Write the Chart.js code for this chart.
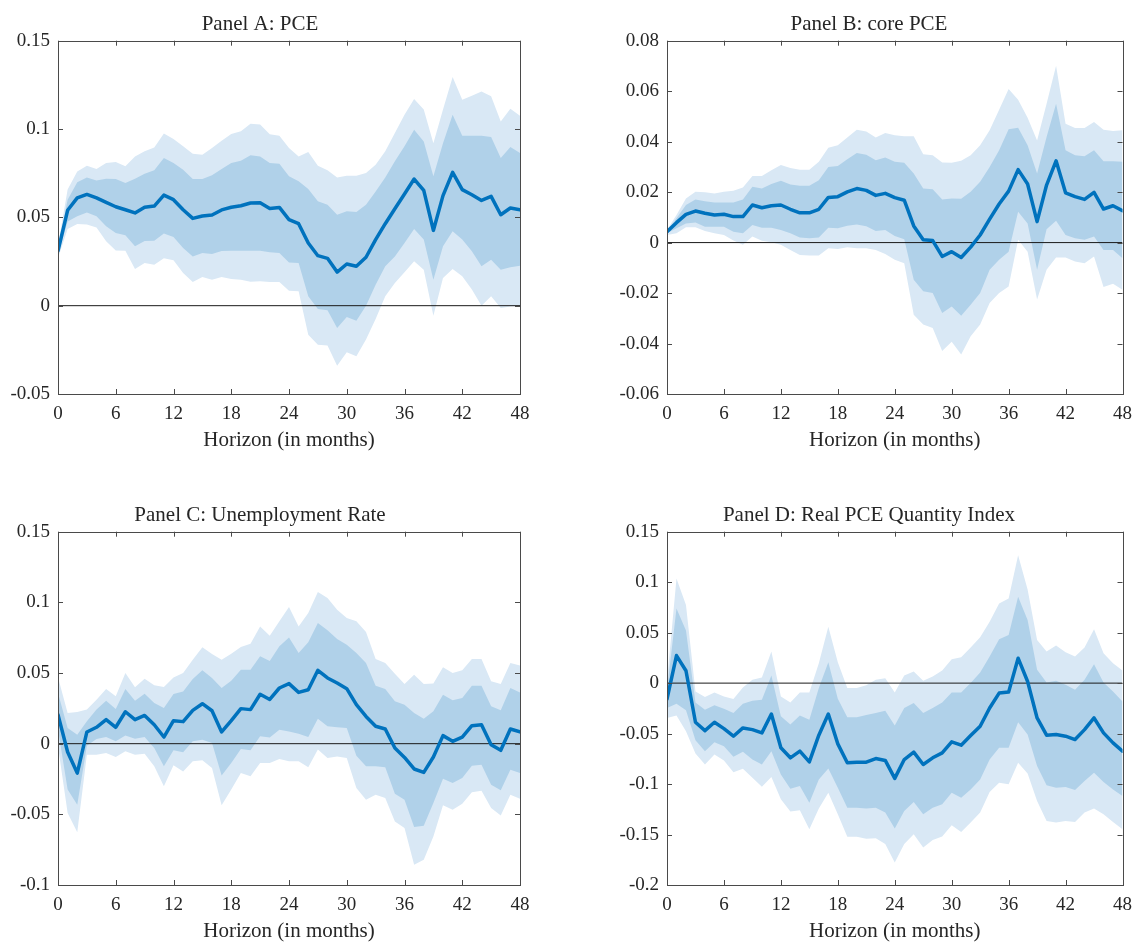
<!DOCTYPE html>
<html>
<head>
<meta charset="utf-8">
<script src="https://cdn.jsdelivr.net/npm/chart.js@4.4.1/dist/chart.umd.min.js"></script>
<style>
  html, body { margin: 0; padding: 0; background: #fff; width: 1141px; height: 943px; overflow: hidden; }
  #wrap { position: relative; width: 1141px; height: 943px; }
  canvas { position: absolute; }
</style>
</head>
<body>
<div id="wrap">
  <canvas id="cA" width="570" height="470" style="left:0px;top:0px;"></canvas>
  <canvas id="cB" width="532" height="470" style="left:609px;top:0px;"></canvas>
  <canvas id="cC" width="570" height="470" style="left:0px;top:491px;"></canvas>
  <canvas id="cD" width="532" height="470" style="left:609px;top:491px;"></canvas>
</div>
<script>
// ---------- categories / ticks ----------
const horizons = [0,1,2,3,4,5,6,7,8,9,10,11,12,13,14,15,16,17,18,19,20,21,22,23,24,25,26,27,28,29,30,31,32,33,34,35,36,37,38,39,40,41,42,43,44,45,46,47,48];
const xTicks = [0, 6, 12, 18, 24, 30, 36, 42, 48];
const yTicksA = [-0.05, 0, 0.05, 0.1, 0.15];
const yTicksB = [-0.06, -0.04, -0.02, 0, 0.02, 0.04, 0.06, 0.08];
const yTicksC = [-0.1, -0.05, 0, 0.05, 0.1, 0.15];
const yTicksD = [-0.2, -0.15, -0.1, -0.05, 0, 0.05, 0.1, 0.15];

// ---------- Panel A: PCE ----------
const irfA = [0.031,0.054,0.061,0.063,0.061,0.0585,0.056,0.0543,0.0525,0.0557,0.0564,0.0626,0.060,0.0543,0.0494,0.0508,0.0513,0.0542,0.0557,0.0566,0.0581,0.0583,0.055,0.0556,0.0487,0.0464,0.0355,0.0283,0.0268,0.019,0.0236,0.0223,0.0274,0.0374,0.0464,0.0549,0.0632,0.0717,0.0653,0.0426,0.0623,0.0755,0.0657,0.0628,0.0596,0.0619,0.0515,0.0553,0.0543];
const up90A = [0.034,0.0657,0.076,0.0792,0.0774,0.0808,0.0813,0.0789,0.0845,0.0874,0.0896,0.0974,0.0943,0.0902,0.086,0.0855,0.0892,0.0934,0.0972,0.0987,0.103,0.1025,0.097,0.0962,0.0892,0.0845,0.087,0.0792,0.0766,0.0726,0.0736,0.0736,0.0751,0.0798,0.0874,0.0977,0.1081,0.117,0.111,0.092,0.111,0.1294,0.1166,0.1189,0.1213,0.1185,0.1043,0.1115,0.1075];
const up68A = [0.033,0.060,0.0698,0.0726,0.0709,0.0719,0.0717,0.0694,0.0719,0.0747,0.0766,0.0836,0.0808,0.077,0.0717,0.0717,0.0738,0.0774,0.0808,0.0821,0.0851,0.0845,0.0808,0.0804,0.0732,0.0704,0.066,0.0591,0.0572,0.0515,0.0534,0.053,0.0572,0.0647,0.0726,0.0817,0.0902,0.0996,0.093,0.0732,0.092,0.1081,0.0962,0.0962,0.0962,0.0955,0.0836,0.0898,0.0864];
const lo68A = [0.029,0.0477,0.0506,0.0528,0.0506,0.0449,0.0411,0.0398,0.0336,0.0366,0.0368,0.0408,0.0389,0.0326,0.0279,0.0298,0.0292,0.0309,0.0311,0.0311,0.0311,0.0311,0.0303,0.0298,0.0245,0.0242,0.0053,-0.0019,-0.0026,-0.0126,-0.0064,-0.0085,0.0,0.0119,0.0223,0.0279,0.0355,0.0434,0.0374,0.0147,0.0336,0.0421,0.0374,0.0308,0.0223,0.026,0.0204,0.0217,0.0226];
const lo90A = [0.027,0.0434,0.0462,0.046,0.0443,0.0364,0.0313,0.0311,0.0208,0.0242,0.0232,0.0268,0.0257,0.0185,0.0134,0.0162,0.0147,0.0162,0.0151,0.0147,0.0136,0.0138,0.0134,0.0134,0.0085,0.0081,-0.0164,-0.0221,-0.0226,-0.034,-0.0264,-0.0287,-0.0192,-0.0075,0.0053,0.0128,0.0189,0.0251,0.0204,-0.0057,0.0157,0.0208,0.0166,0.0091,0.0,0.0053,-0.0013,-0.0004,0.0];

// ---------- Panel B: core PCE ----------
const irfB = [0.0043,0.0079,0.0112,0.0125,0.0116,0.0109,0.0112,0.0103,0.0103,0.0149,0.0138,0.0146,0.0149,0.0132,0.0118,0.0118,0.0132,0.0179,0.0182,0.0201,0.0214,0.0207,0.0187,0.0195,0.0178,0.0168,0.0066,0.0011,0.0008,-0.0055,-0.0036,-0.0059,-0.0018,0.003,0.0093,0.0153,0.0204,0.0289,0.0232,0.0083,0.0228,0.0324,0.0197,0.0182,0.0171,0.0199,0.0133,0.0146,0.0126];
const up90B = [0.005,0.0109,0.0175,0.0201,0.0199,0.0195,0.0201,0.0205,0.0218,0.0264,0.0264,0.0287,0.0307,0.0296,0.0289,0.0289,0.032,0.0376,0.0386,0.0416,0.0447,0.044,0.0416,0.0434,0.0425,0.0421,0.0421,0.035,0.0346,0.0317,0.0316,0.0324,0.0346,0.0386,0.0445,0.0526,0.0609,0.0566,0.0495,0.0405,0.055,0.0701,0.0471,0.0454,0.0454,0.0478,0.0447,0.0442,0.0445];
const up68B = [0.0046,0.0096,0.0149,0.0171,0.0164,0.0159,0.0159,0.0159,0.0171,0.0221,0.0214,0.0232,0.0245,0.023,0.0225,0.0225,0.0247,0.030,0.0303,0.033,0.0355,0.0348,0.0326,0.0337,0.032,0.0316,0.0274,0.0214,0.0211,0.0171,0.0175,0.0174,0.0201,0.0241,0.030,0.0366,0.0449,0.0455,0.0386,0.0274,0.0418,0.055,0.0366,0.0346,0.0342,0.0366,0.0322,0.0322,0.032];
const lo68B = [0.0037,0.0057,0.0076,0.008,0.0063,0.0063,0.0063,0.0043,0.0037,0.007,0.0059,0.0059,0.005,0.0037,0.002,0.0017,0.002,0.0059,0.0057,0.0067,0.0072,0.0065,0.0046,0.005,0.0026,0.0013,-0.0147,-0.0193,-0.020,-0.0279,-0.0253,-0.029,-0.0246,-0.020,-0.0108,-0.0068,-0.0036,0.0122,0.0076,-0.0108,0.0053,0.0087,0.003,0.0017,0.0011,0.0024,-0.0029,-0.0029,-0.0062];
const lo90B = [0.003,0.0037,0.0061,0.0061,0.0046,0.0037,0.003,0.0008,-0.0009,0.0024,0.0007,0.0001,-0.0009,-0.0029,-0.0049,-0.0051,-0.0051,-0.0022,-0.0025,-0.0018,-0.0022,-0.0022,-0.0029,-0.0045,-0.0068,-0.0082,-0.0286,-0.0325,-0.0338,-0.043,-0.0393,-0.0443,-0.0371,-0.0325,-0.0239,-0.020,-0.0174,0.0011,-0.0036,-0.0226,-0.0108,-0.0059,-0.0059,-0.0075,-0.0082,-0.0055,-0.0176,-0.0163,-0.0187];

// ---------- Panel C: Unemployment Rate ----------
const irfC = [0.0205,-0.0059,-0.0208,0.0083,0.0116,0.017,0.0116,0.0226,0.017,0.020,0.0134,0.0047,0.0163,0.0156,0.0236,0.0283,0.0233,0.0083,0.0163,0.0248,0.0241,0.035,0.0313,0.0394,0.0425,0.0363,0.0382,0.0519,0.0465,0.0429,0.0389,0.0276,0.0193,0.0123,0.0104,-0.0031,-0.0097,-0.0179,-0.0203,-0.0094,0.0057,0.0017,0.0047,0.0127,0.0134,-0.0007,-0.0047,0.0104,0.0083];
const up90C = [0.047,0.0217,0.0224,0.0241,0.0311,0.0387,0.0335,0.050,0.0399,0.046,0.0413,0.0401,0.0469,0.050,0.0594,0.0682,0.0634,0.0594,0.0637,0.0684,0.0708,0.083,0.0764,0.0866,0.0967,0.083,0.0925,0.1073,0.1031,0.0948,0.0889,0.0866,0.079,0.0599,0.0571,0.0495,0.0422,0.0488,0.0422,0.0425,0.054,0.050,0.0519,0.0599,0.0599,0.0441,0.0422,0.0571,0.0554];
const up68C = [0.0358,0.0111,0.0064,0.0158,0.0241,0.0304,0.0245,0.0387,0.0304,0.0354,0.0288,0.0252,0.0351,0.037,0.0458,0.0519,0.0465,0.0394,0.0446,0.0524,0.0524,0.0618,0.0585,0.0689,0.0752,0.0642,0.0717,0.0854,0.0802,0.0741,0.070,0.0642,0.0571,0.041,0.0387,0.030,0.0276,0.0217,0.0177,0.0229,0.0347,0.0307,0.0323,0.041,0.041,0.0264,0.0236,0.0394,0.0363];
const lo68C = [0.010,-0.0325,-0.0432,-0.0014,0.0033,0.0047,0.0017,0.0057,0.0035,0.0047,-0.0031,-0.016,-0.0047,-0.0061,0.0017,0.0028,0.0005,-0.0226,-0.0137,-0.0038,-0.0047,0.0052,0.0044,0.0099,0.0087,0.0071,0.0047,0.0177,0.0123,0.0116,0.0111,-0.0085,-0.016,-0.016,-0.0167,-0.0354,-0.0396,-0.059,-0.058,-0.042,-0.0248,-0.0278,-0.0243,-0.0156,-0.0149,-0.029,-0.033,-0.0184,-0.0208];
const lo90C = [-0.002,-0.049,-0.0627,-0.0078,-0.0078,-0.0066,-0.0094,-0.0054,-0.0078,-0.0071,-0.016,-0.0302,-0.0153,-0.0196,-0.0125,-0.0118,-0.0172,-0.0436,-0.0325,-0.0208,-0.0231,-0.0137,-0.0137,-0.0108,-0.0125,-0.0125,-0.0167,-0.0042,-0.0101,-0.009,-0.0101,-0.0314,-0.0396,-0.0361,-0.0384,-0.055,-0.0597,-0.0856,-0.0821,-0.0656,-0.0436,-0.0467,-0.0425,-0.0344,-0.0333,-0.0455,-0.0509,-0.0361,-0.0389];

// ---------- Panel D: Real PCE Quantity Index ----------
const irfD = [-0.0158,0.0273,0.0122,-0.0388,-0.047,-0.0388,-0.0451,-0.0526,-0.0444,-0.0461,-0.0493,-0.0306,-0.0641,-0.074,-0.0674,-0.078,-0.0516,-0.0306,-0.0602,-0.0789,-0.0783,-0.0783,-0.0747,-0.0766,-0.0944,-0.0757,-0.0684,-0.0806,-0.074,-0.0691,-0.0582,-0.0615,-0.052,-0.0428,-0.0247,-0.0099,-0.0089,0.0247,0.0016,-0.0345,-0.0516,-0.051,-0.0526,-0.0559,-0.0461,-0.0345,-0.0493,-0.0592,-0.0674];
const up90D = [0.0016,0.1036,0.0773,-0.0082,-0.0138,-0.0092,-0.0132,-0.0158,-0.0043,0.0033,0.0056,0.0313,-0.0132,-0.0191,-0.0092,-0.0092,0.0197,0.0559,0.0207,-0.0049,-0.0049,-0.002,0.0033,0.0049,-0.0092,0.0076,0.0115,0.0023,0.0066,0.0125,0.0237,0.0257,0.0352,0.0454,0.0609,0.0789,0.0839,0.1266,0.0928,0.0428,0.0313,0.0372,0.0306,0.0263,0.0352,0.0533,0.0296,0.0197,0.0125];
const up68D = [-0.0066,0.074,0.052,-0.0191,-0.0263,-0.022,-0.0253,-0.0296,-0.0204,-0.0174,-0.0164,0.0076,-0.0329,-0.0411,-0.0322,-0.0362,-0.0049,0.0207,-0.0155,-0.0339,-0.0339,-0.0315,-0.0296,-0.0273,-0.0421,-0.0247,-0.0197,-0.0296,-0.0247,-0.0191,-0.0092,-0.0092,0.0,0.0105,0.0263,0.0434,0.0477,0.0855,0.0625,0.0132,0.0007,0.0023,-0.0016,-0.0066,0.0033,0.0188,0.0007,-0.0082,-0.0181];
const lo68D = [-0.0247,-0.0204,-0.027,-0.0566,-0.0674,-0.0586,-0.0625,-0.073,-0.0681,-0.0757,-0.0806,-0.0674,-0.0905,-0.1046,-0.102,-0.1184,-0.0954,-0.0845,-0.1036,-0.1234,-0.1234,-0.1243,-0.1235,-0.1283,-0.1441,-0.1266,-0.1178,-0.1299,-0.1234,-0.1201,-0.1086,-0.1135,-0.1053,-0.0954,-0.0757,-0.0641,-0.0641,-0.0388,-0.051,-0.0822,-0.1013,-0.1036,-0.103,-0.1059,-0.097,-0.0888,-0.098,-0.1053,-0.1118];
const lo90D = [-0.0345,-0.0322,-0.0477,-0.0697,-0.0806,-0.0707,-0.0766,-0.0882,-0.0849,-0.0938,-0.1026,-0.0931,-0.1151,-0.1273,-0.126,-0.1447,-0.1243,-0.1086,-0.1299,-0.1523,-0.1523,-0.1542,-0.1538,-0.1595,-0.1776,-0.1595,-0.1497,-0.1628,-0.1553,-0.152,-0.1408,-0.1474,-0.1382,-0.1283,-0.1079,-0.0987,-0.1003,-0.0789,-0.0895,-0.1168,-0.1365,-0.1382,-0.1365,-0.1375,-0.1283,-0.1243,-0.1299,-0.1375,-0.1447];

const zeroLine = [0, 0];
const zeroX = [0, 48];

// ---------- styling ----------
const SERIF = "'Liberation Serif', 'Times New Roman', serif";
const AXIS_COLOR = '#4a4a4a';
const TEXT_COLOR = '#262626';
const LINE_COLOR = '#0072BD';
const BAND90 = '#d9e8f5';
const BAND68 = '#b0d1e9';

Chart.defaults.font.family = SERIF;
Chart.defaults.color = TEXT_COLOR;

const frameTicks = {
  id: 'frameTicks',
  afterDatasetsDraw(chart) {
    const { ctx, chartArea: a, scales } = chart;
    const xs = scales.x, ys = scales.y;
    const tl = 5;
    ctx.save();
    ctx.strokeStyle = AXIS_COLOR;
    ctx.lineWidth = 1;
    ctx.beginPath();
    xs.ticks.forEach(t => {
      const px = Math.round(xs.getPixelForValue(t.value)) + 0.5;
      ctx.moveTo(px, a.bottom); ctx.lineTo(px, a.bottom - tl);
      ctx.moveTo(px, a.top); ctx.lineTo(px, a.top + tl);
    });
    ys.ticks.forEach(t => {
      const py = Math.round(ys.getPixelForValue(t.value)) + 0.5;
      ctx.moveTo(a.left, py); ctx.lineTo(a.left + tl, py);
      ctx.moveTo(a.right, py); ctx.lineTo(a.right - tl, py);
    });
    ctx.stroke();
    ctx.strokeRect(Math.round(a.left) + 0.5, Math.round(a.top) + 0.5,
                   Math.round(a.right - a.left), Math.round(a.bottom - a.top));
    ctx.restore();
  }
};

function pts(ys) { return ys.map((v, i) => ({ x: horizons[i], y: v })); }

function makePanel(id, title, yTicks, irf, up90, up68, lo68, lo90, padRight) {
  const yMin = yTicks[0], yMax = yTicks[yTicks.length - 1];
  const band = (data, color, fill) => ({
    data: pts(data), borderWidth: 0, pointRadius: 0, backgroundColor: color,
    borderColor: 'rgba(0,0,0,0)', fill: fill, tension: 0
  });
  new Chart(document.getElementById(id), {
    type: 'line',
    data: {
      datasets: [
        { data: pts(irf), borderColor: LINE_COLOR, borderWidth: 3.5, pointRadius: 0,
          fill: false, tension: 0, borderJoinStyle: 'round', borderCapStyle: 'round' },
        { data: zeroX.map((x, i) => ({ x: x, y: zeroLine[i] })), borderColor: '#1a1a1a',
          borderWidth: 1, pointRadius: 0, fill: false },
        band(up68, BAND68, '+1'),
        band(lo68, BAND68, false),
        band(up90, BAND90, '+1'),
        band(lo90, BAND90, false)
      ]
    },
    options: {
      responsive: false,
      animation: false,
      devicePixelRatio: 1,
      layout: { padding: { left: 0, right: padRight, top: 0, bottom: 16 } },
      plugins: {
        legend: { display: false },
        tooltip: { enabled: false },
        title: {
          display: true, text: title, color: TEXT_COLOR,
          font: { family: SERIF, size: 21, weight: 'normal', lineHeight: 1.2 },
          padding: { top: 12, bottom: 3.5 }
        }
      },
      scales: {
        x: {
          type: 'linear', min: 0, max: 48,
          afterBuildTicks: s => { s.ticks = xTicks.map(v => ({ value: v })); },
          afterFit: s => { s.height = 60; },
          grid: { display: false, drawTicks: false },
          border: { display: false },
          ticks: { font: { size: 19 }, padding: 9, maxRotation: 0, autoSkip: false,
                   callback: v => String(v), color: TEXT_COLOR },
          title: { display: true, text: 'Horizon (in months)', color: TEXT_COLOR,
                   font: { size: 21 }, padding: { top: 0, bottom: 1 } }
        },
        y: {
          type: 'linear', min: yMin, max: yMax,
          afterBuildTicks: s => { s.ticks = yTicks.map(v => ({ value: v })); },
          afterFit: s => { s.width = 58; },
          grid: { display: false, drawTicks: false },
          border: { display: false },
          ticks: { font: { size: 19 }, padding: 8, autoSkip: false,
                   callback: v => String(v), color: TEXT_COLOR }
        }
      }
    },
    plugins: [frameTicks]
  });
}

makePanel('cA', 'Panel A: PCE', yTicksA, irfA, up90A, up68A, lo68A, lo90A, 50);
makePanel('cB', 'Panel B: core PCE', yTicksB, irfB, up90B, up68B, lo68B, lo90B, 12);
makePanel('cC', 'Panel C: Unemployment Rate', yTicksC, irfC, up90C, up68C, lo68C, lo90C, 50);
makePanel('cD', 'Panel D: Real PCE Quantity Index', yTicksD, irfD, up90D, up68D, lo68D, lo90D, 12);
</script>
</body>
</html>
